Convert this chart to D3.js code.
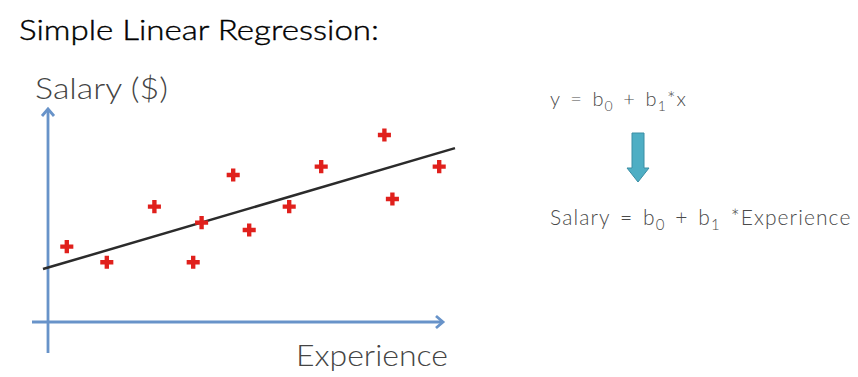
<!DOCTYPE html>
<html>
<head>
<meta charset="utf-8">
<script src="https://d3js.org/d3.v7.min.js"></script>
<style>
  body { margin: 0; background: #fff; }
  text { font-family: Lato, "Open Sans", sans-serif; font-weight: 300; }
</style>
</head>
<body>
<div id="chart"></div>
<script>
var width = 858;
var height = 377;

// data points (experience, salary) in arbitrary units
var experience = [0.47, 1.47, 2.66, 3.63, 3.84, 4.63, 5.03, 6.03, 6.83, 8.41, 8.61, 9.78];
var salary     = [3.77, 2.99, 5.77, 2.99, 4.97, 7.35, 4.60, 5.77, 7.77, 9.35, 6.15, 7.77];

// fitted line y = b0 + b1*x, and the x range it is drawn over
var b0 = 2.72;
var b1 = 0.587;
var lineRange = [-0.125, 10.175];

var dataset = experience.map(function (d, i) { return {x: d, y: salary[i]}; });

var svg = d3.select("#chart")
  .append("svg")
    .attr("width", width)
    .attr("height", height);

var xScale = d3.scaleLinear().domain([0, 10]).range([48, 448]);
var yScale = d3.scaleLinear().domain([0, 10]).range([322, 122]);

var axisColor = "#6893c9";

// title
svg.append("text")
  .attr("x", 19)
  .attr("y", 40)
  .attr("font-size", 28)
  .attr("fill", "#000")
  .attr("stroke", "#000")
  .attr("stroke-width", 0.4)
  .attr("textLength", 360)
  .attr("lengthAdjust", "spacingAndGlyphs")
  .text("Simple Linear Regression:");

// axes - plain arrows, no ticks
var axes = svg.append("g")
  .attr("stroke", axisColor)
  .attr("stroke-width", 2.8)
  .attr("fill", "none");

axes.append("line")
  .attr("x1", xScale(0)).attr("x2", xScale(0))
  .attr("y1", yScale(-1.55)).attr("y2", yScale(10.6));

axes.append("line")
  .attr("x1", xScale(-0.4)).attr("x2", xScale(9.85))
  .attr("y1", yScale(0)).attr("y2", yScale(0));

// arrow heads
axes.append("path")
  .attr("d", "M" + (xScale(0) - 6) + "," + (yScale(10.65) + 7) +
             "L" + xScale(0) + "," + yScale(10.65) +
             "L" + (xScale(0) + 6) + "," + (yScale(10.65) + 7));

axes.append("path")
  .attr("d", "M" + (xScale(9.875) - 7) + "," + (yScale(0) - 6) +
             "L" + xScale(9.875) + "," + yScale(0) +
             "L" + (xScale(9.875) - 7) + "," + (yScale(0) + 6));

// axis labels
svg.append("text")
  .attr("x", 35)
  .attr("y", 99)
  .attr("font-size", 29)
  .attr("fill", "#444")
  .attr("textLength", 133)
  .attr("lengthAdjust", "spacingAndGlyphs")
  .text("Salary ($)");

svg.append("text")
  .attr("x", 296)
  .attr("y", 366)
  .attr("font-size", 29)
  .attr("fill", "#444")
  .attr("textLength", 152)
  .attr("lengthAdjust", "spacingAndGlyphs")
  .text("Experience");

// regression line
svg.append("line")
  .attr("x1", xScale(lineRange[0]))
  .attr("y1", yScale(b0 + b1 * lineRange[0]))
  .attr("x2", xScale(lineRange[1]))
  .attr("y2", yScale(b0 + b1 * lineRange[1]))
  .attr("stroke", "#2b2b2b")
  .attr("stroke-width", 2.5);

// points
svg.selectAll(".pt")
  .data(dataset)
  .enter()
  .append("path")
    .attr("class", "pt")
    .attr("d", d3.symbol().type(d3.symbolCross).size(95))
    .attr("transform", function (d) { return "translate(" + xScale(d.x) + "," + yScale(d.y) + ")"; })
    .attr("fill", "#e0201c");

// formulas on the right
var f1 = svg.append("text")
  .attr("x", 550)
  .attr("y", 106)
  .attr("font-size", 20)
  .attr("fill", "#4a4a4a")
  .attr("word-spacing", 3)
  .attr("letter-spacing", 1.1);
f1.append("tspan").text("y = b");
f1.append("tspan").attr("font-size", 14).attr("dy", 5).text("0");
f1.append("tspan").attr("dy", -5).text(" + b");
f1.append("tspan").attr("font-size", 14).attr("dy", 5).text("1");
f1.append("tspan").attr("dy", -5).text("*x");

// down arrow
svg.append("path")
  .attr("d", "M632,133 L644,133 L644,168 L649,168 L638,182 L627,168 L632,168 Z")
  .attr("fill", "#4eaec4")
  .attr("stroke", "#3a8ea4")
  .attr("stroke-width", 1);

var f2 = svg.append("text")
  .attr("x", 550)
  .attr("y", 225)
  .attr("font-size", 21)
  .attr("fill", "#4a4a4a")
  .attr("word-spacing", 3)
  .attr("letter-spacing", 1.1);
f2.append("tspan").text("Salary = b");
f2.append("tspan").attr("font-size", 15).attr("dy", 5).text("0");
f2.append("tspan").attr("dy", -5).text(" + b");
f2.append("tspan").attr("font-size", 15).attr("dy", 5).text("1");
f2.append("tspan").attr("dy", -5).text("  *Experience");
</script>
</body>
</html>
